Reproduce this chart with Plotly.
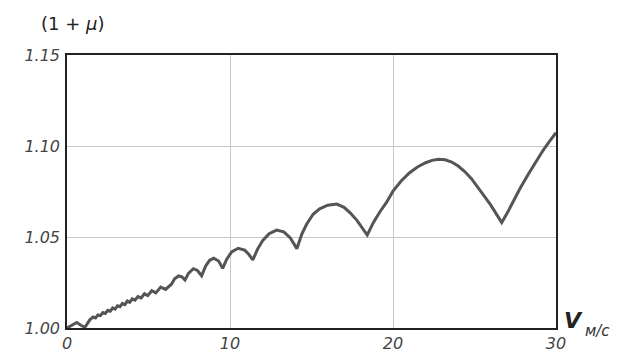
import plotly.graph_objects as go

# Speed v (m/s) and coefficient (1 + mu)
v = [0.0, 0.3, 0.6, 0.85, 1.1, 1.4, 1.6, 1.75, 1.9, 2.05, 2.2, 2.35, 2.5, 2.65, 2.8, 2.95, 3.1,
     3.25, 3.4, 3.55, 3.7, 3.85, 4.0, 4.17, 4.35, 4.55, 4.75, 4.95, 5.2, 5.45, 5.75, 6.05, 6.42,
     6.6, 6.85, 7.05, 7.24, 7.45, 7.75, 8.0, 8.26, 8.5, 8.75, 9.0, 9.3, 9.55,
     9.8, 10.1, 10.5, 10.9, 11.15, 11.4, 11.7, 12.0, 12.4, 12.86, 13.3, 13.7, 14.1,
     14.4, 14.7, 15.1, 15.5, 16.0, 16.55, 17.0, 17.4, 17.8, 18.1, 18.42,
     18.8, 19.2, 19.6, 20.0, 20.5, 21.0, 21.5, 22.0, 22.4, 22.78, 23.2, 23.6, 24.0, 24.4,
     24.8, 25.2, 25.6, 26.0, 26.35, 26.67,
     27.0, 27.4, 27.8, 28.3, 28.8, 29.2, 29.6, 30.0]
mu = [1.0000, 1.0015, 1.0030, 1.0015, 1.0004, 1.0045, 1.0060, 1.0055, 1.0072, 1.0068, 1.0085, 1.0080, 1.0097, 1.0092, 1.0110, 1.0104, 1.0122,
      1.0117, 1.0135, 1.0129, 1.0148, 1.0141, 1.0160, 1.0153, 1.0173, 1.0165, 1.0188, 1.0178, 1.0205, 1.0193, 1.0225, 1.0212, 1.0242,
      1.0270, 1.0286, 1.0281, 1.0264, 1.0300, 1.0326, 1.0316, 1.0287, 1.0340, 1.0372, 1.0383, 1.0368, 1.0328,
      1.0378, 1.0418, 1.0438, 1.0428, 1.0405, 1.0374, 1.0435, 1.0480, 1.0518, 1.0538, 1.0528, 1.0495, 1.0436,
      1.0515, 1.0570, 1.0625, 1.0655, 1.0675, 1.0681, 1.0663, 1.0630, 1.0590, 1.0550, 1.0511,
      1.0580, 1.0639, 1.0690, 1.0752, 1.0808, 1.0852, 1.0885, 1.0908, 1.0921, 1.0927, 1.0924, 1.0912, 1.0890, 1.0860,
      1.0822, 1.0776, 1.0725, 1.0675, 1.0625, 1.0579,
      1.0630, 1.0700, 1.0768, 1.0845, 1.0918, 1.0975, 1.1025, 1.1073]

x_ticks = [0, 10, 20, 30]
x_labels = ["0", "10", "20", "30"]
y_ticks = [1.00, 1.05, 1.10, 1.15]
y_labels = ["1.00", "1.05", "1.10", "1.15"]

fig = go.Figure()
fig.add_trace(go.Scatter(x=v, y=mu, mode="lines",
                         line=dict(color="#555555", width=3), showlegend=False))

tick_font = dict(family="DejaVu Sans", size=16, color="#444444", style="italic")

# page body has an 8px margin, so the figure is sized to fill the rest of the window
fig.update_layout(
    width=619, height=348,
    margin=dict(l=59, r=71, t=47, b=28, autoexpand=False),
    paper_bgcolor="white", plot_bgcolor="white",
    xaxis=dict(range=[0, 30], tickvals=x_ticks, ticktext=x_labels, showgrid=True,
               gridcolor="#c8c8c8", gridwidth=1, showline=True, linecolor="#222222",
               linewidth=1.5, mirror=True, ticks="", tickfont=tick_font, zeroline=False,
               automargin=False),
    yaxis=dict(range=[1.0, 1.15], tickvals=y_ticks, ticktext=y_labels, showgrid=True,
               gridcolor="#c8c8c8", gridwidth=1, showline=True, linecolor="#222222",
               linewidth=1.5, mirror=True, ticks="", tickfont=tick_font, zeroline=False,
               automargin=False, ticklabelstandoff=2),
)

fig.add_annotation(xref="paper", yref="paper", x=-0.057, y=1.07, xanchor="left", yanchor="bottom",
                   text="(1 + <i>μ</i>)", showarrow=False,
                   font=dict(family="DejaVu Sans", size=18, color="#222222"))
fig.add_annotation(xref="paper", yref="paper", x=1.012, y=-0.025, xanchor="left", yanchor="bottom",
                   text="<b><i>V</i></b>", showarrow=False,
                   font=dict(family="DejaVu Sans", size=22, color="#222222"))
fig.add_annotation(xref="paper", yref="paper", x=1.055, y=-0.05, xanchor="left", yanchor="bottom",
                   text="<i>м/с</i>", showarrow=False,
                   font=dict(family="DejaVu Sans", size=15, color="#333333"))

fig.write_html("out.html")
